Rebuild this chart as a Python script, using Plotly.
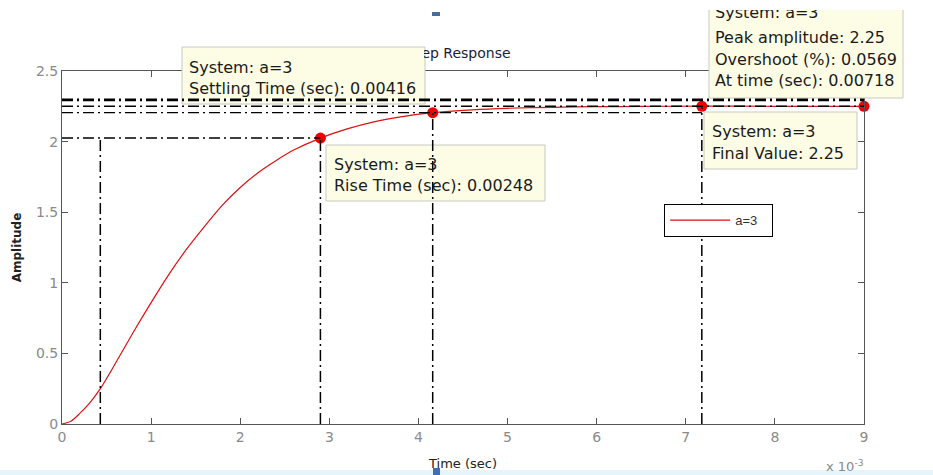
import plotly.graph_objects as go

# ---------------- data (time in units of 1e-3 s) ----------------
time_ms = [0, 0.1, 0.2, 0.3, 0.43, 0.6, 0.8, 1.0, 1.2, 1.4, 1.6, 1.8, 2.0, 2.2,
           2.4, 2.6, 2.9, 3.2, 3.5, 3.8, 4.16, 4.6, 5.0, 5.5, 6.0, 6.5, 7.18, 8.0, 9.0]
amplitude = [0, 0.02, 0.075, 0.14, 0.25, 0.43, 0.65, 0.86, 1.06, 1.24, 1.40, 1.55,
             1.675, 1.78, 1.865, 1.94, 2.025, 2.09, 2.14, 2.175, 2.205, 2.225, 2.236,
             2.243, 2.247, 2.249, 2.251, 2.25, 2.25]
series_name = "a=3"

rise_start_ms = 0.43
rise_end_ms = 2.9
rise_level = 2.025
settling_time_ms = 4.16
settling_level = 2.205
upper_band = 2.295
peak_time_ms = 7.18
peak_amplitude = 2.25
final_time_ms = 9.0
final_value = 2.25

marker_t = [rise_end_ms, settling_time_ms, peak_time_ms, final_time_ms]
marker_y = [rise_level, settling_level, peak_amplitude, final_value]

x_ticks = [0, 1, 2, 3, 4, 5, 6, 7, 8, 9]
y_ticks = [0, 0.5, 1, 1.5, 2, 2.5]
y_tick_labels = ["0", "0.5", "1", "1.5", "2", "2.5"]

title_text = "Step Response"
x_title = "Time (sec)"
y_title = "Amplitude"
x_exponent = "x 10<sup>-3</sup>"

tip_settling = ["System: a=3", "Settling Time (sec): 0.00416"]
tip_rise = ["System: a=3", "Rise Time (sec): 0.00248"]
tip_peak = ["System: a=3", "Peak amplitude: 2.25", "Overshoot (%): 0.0569", "At time (sec): 0.00718"]
tip_final = ["System: a=3", "Final Value: 2.25"]

# ---------------- geometry (page pixels) ----------------
TOP_OFFSET = 10          # figure starts 10 px below the page top
W, H = 933, 475 - TOP_OFFSET
L, R, T, B = 62, 864, 71, 424   # plot area in page pixels


def px(x):
    return (x - L) / (R - L)


def py(y):
    return (B - y) / (B - T)


TIP_FILL = "#FDFDE6"
TIP_LINE = "#C9C9C0"
AXIS = "#555555"
TICKFONT = dict(family="DejaVu Sans", size=14, color="#8a8a8a")
TIPFONT = dict(family="DejaVu Sans", size=16, color="#1a1a1a")
DASHDOT = "11px,4px,2px,4px"

fig = go.Figure()

fig.add_trace(go.Scatter(
    x=time_ms, y=amplitude, mode="lines", name=series_name,
    line=dict(color="#dd1111", width=1.2, shape="spline", smoothing=0.8),
))
fig.add_trace(go.Scatter(
    x=marker_t, y=marker_y, mode="markers", showlegend=False, cliponaxis=False,
    marker=dict(color="#ee0000", size=11),
))

shapes = []
# light strip at bottom and small blue artefacts
shapes.append(dict(type="rect", xref="paper", yref="paper", layer="above",
                   x0=px(0), x1=px(W), y0=py(470), y1=py(476),
                   fillcolor="#E6F5FB", line=dict(width=0)))
shapes.append(dict(type="rect", xref="paper", yref="paper", layer="above",
                   x0=px(432), x1=px(440), y0=py(12), y1=py(16),
                   fillcolor="#4b6b9b", line=dict(width=0)))
shapes.append(dict(type="rect", xref="paper", yref="paper", layer="above",
                   x0=px(433), x1=px(440), y0=py(468), y1=py(476),
                   fillcolor="#3d6fb5", line=dict(width=0)))

# data-tip boxes
boxes = [(182, 47, 425, 104), (326, 145, 545, 201), (709, 0, 903, 98), (704, 112, 857, 169)]
for (x0, y0, x1, y1) in boxes:
    shapes.append(dict(type="rect", xref="paper", yref="paper", layer="above",
                       x0=px(x0), x1=px(x1), y0=py(y0), y1=py(y1),
                       fillcolor=TIP_FILL, line=dict(color=TIP_LINE, width=1)))


def hline(y, x0, x1, width=1.5):
    shapes.append(dict(type="line", xref="x", yref="y", layer="above",
                       x0=x0, x1=x1, y0=y, y1=y,
                       line=dict(color="black", width=width, dash=DASHDOT)))


def vline(x, y0, y1, width=1.5):
    shapes.append(dict(type="line", xref="x", yref="y", layer="above",
                       x0=x, x1=x, y0=y0, y1=y1,
                       line=dict(color="black", width=width, dash=DASHDOT)))


hline(upper_band, 0, final_time_ms, width=2.8)
hline(final_value, 0, final_time_ms, width=1.4)
hline(settling_level, 0, peak_time_ms, width=1.4)
hline(rise_level, 0, rise_end_ms, width=1.4)
vline(rise_start_ms, 0, rise_level)
vline(rise_end_ms, 0, rise_level)
vline(settling_time_ms, 0, settling_level)
vline(peak_time_ms, 0, peak_amplitude)

annotations = []
# title (its start is hidden under the settling-time tip)
annotations.append(dict(xref="paper", yref="paper", x=px(513), y=py(53), xanchor="right",
                        yanchor="middle", showarrow=False, text=title_text,
                        font=dict(family="DejaVu Sans", size=14, color="#1c1c3a")))

# first line of the settling tip has a filled background spanning the box
annotations.append(dict(xref="paper", yref="paper", x=px(186), y=py(48), xanchor="left",
                        yanchor="top", showarrow=False, text=tip_settling[0],
                        width=232, height=26, borderpad=3, borderwidth=0,
                        bgcolor=TIP_FILL, align="left", valign="bottom", font=TIPFONT))


def tip(lines, left, mids):
    for t, m in zip(lines, mids):
        annotations.append(dict(xref="paper", yref="paper", x=px(left - 2), y=py(m),
                                xanchor="left", yanchor="middle", showarrow=False,
                                text=t, font=TIPFONT))


tip(tip_settling[1:], 189, [88.5])
tip(tip_rise, 334, [164, 185])
tip(tip_peak, 715, [12.5, 37.5, 59.5, 81])
tip(tip_final, 712, [131, 153])

annotations.append(dict(xref="paper", yref="paper", x=px(824), y=py(466), xanchor="left",
                        yanchor="middle", showarrow=False, text=x_exponent,
                        font=dict(family="DejaVu Sans", size=13, color="#888888")))

fig.update_layout(
    width=W, height=H, autosize=False,
    margin=dict(l=L, r=W - R, t=T - TOP_OFFSET, b=475 - B, autoexpand=False),
    paper_bgcolor="white", plot_bgcolor="white",
    shapes=shapes, annotations=annotations,
    showlegend=True,
    legend=dict(x=px(664), y=py(204), xanchor="left", yanchor="top",
                orientation="h", entrywidth=31, entrywidthmode="pixels",
                bgcolor="white", bordercolor="black", borderwidth=1.2,
                font=dict(family="Liberation Sans", size=13, color="#333333"),
                itemwidth=60),
    xaxis=dict(range=[0, 9], tickvals=x_ticks, ticks="inside", ticklen=6,
               tickcolor=AXIS, showline=True, linecolor=AXIS, linewidth=1,
               mirror="ticks", showgrid=False, zeroline=False, tickfont=TICKFONT,
               automargin=False,
               title=dict(text=x_title, standoff=15,
                          font=dict(family="DejaVu Sans", size=13, color="#222222"))),
    yaxis=dict(range=[0, 2.5], tickvals=y_ticks, ticktext=y_tick_labels,
               ticks="inside", ticklen=6, tickcolor=AXIS, showline=True,
               linecolor=AXIS, linewidth=1, mirror="ticks", showgrid=False,
               zeroline=False, tickfont=TICKFONT, automargin=False,
               title=dict(text="<b>" + y_title + "</b>", standoff=11,
                          font=dict(family="DejaVu Sans", size=12, color="#222222"))),
)

fig.write_html(
    "out.html",
    post_script="document.body.style.margin='%dpx 0 0 0';"
                "document.body.style.overflow='hidden';" % TOP_OFFSET,
)
